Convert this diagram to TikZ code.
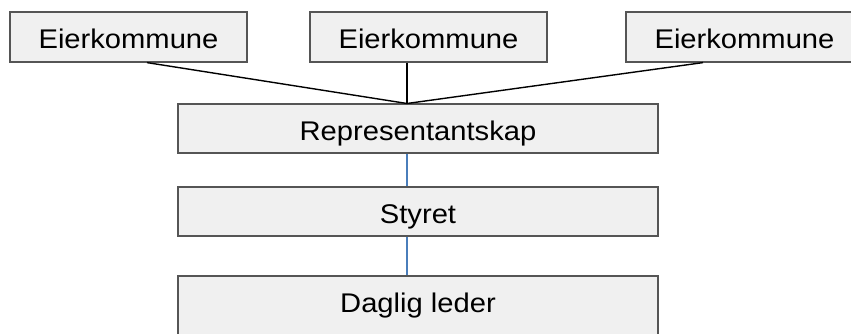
\documentclass[tikz,border=0pt]{standalone}
\usepackage{fontspec}
\setmainfont{Liberation Sans}[FakeStretch=1.08]
\definecolor{boxfill}{HTML}{F0F0F0}
\definecolor{boxline}{HTML}{555555}
\definecolor{linkblue}{HTML}{4A7EBB}
\begin{document}
\begin{tikzpicture}[x=1pt,y=-1pt,
  orgbox/.style={draw=boxline, fill=boxfill, line width=1.2pt, inner sep=0pt,
    font=\fontsize{27}{30}\selectfont, text height=23pt, text depth=0pt},
  topbox/.style={orgbox, minimum width=237pt, minimum height=50pt},
  midbox/.style={orgbox, minimum width=480pt, minimum height=49pt},
  owner/.style={line width=1.4pt, draw=black},
  chain/.style={line width=1.3pt, draw=linkblue}]
\useasboundingbox (0,0) rectangle (851,334);
\clip (0,0) rectangle (851,334);
\node[topbox] (k1) at (128.5,37) {Eierkommune};
\node[topbox] (k2) at (428.5,37) {Eierkommune};
\node[topbox] (k3) at (744.5,37) {Eierkommune};
\node[midbox] (rep) at (418,128.5) {Representantskap};
\node[midbox] (sty) at (418,211.5) {Styret};
\node[midbox, minimum height=64pt, text depth=13.6pt] (dl) at (418,308) {Daglig leder};
\coordinate (join) at (407,103.5);
\draw[owner] (k1.south -| 147,0) -- (join);
\draw[owner] (k2.south -| join) -- (join);
\draw[owner] (k3.south -| 703,0) -- (join);
\draw[chain] (rep.south -| join) -- (sty.north -| join);
\draw[chain] (sty.south -| join) -- (dl.north -| join);
\end{tikzpicture}
\end{document}
